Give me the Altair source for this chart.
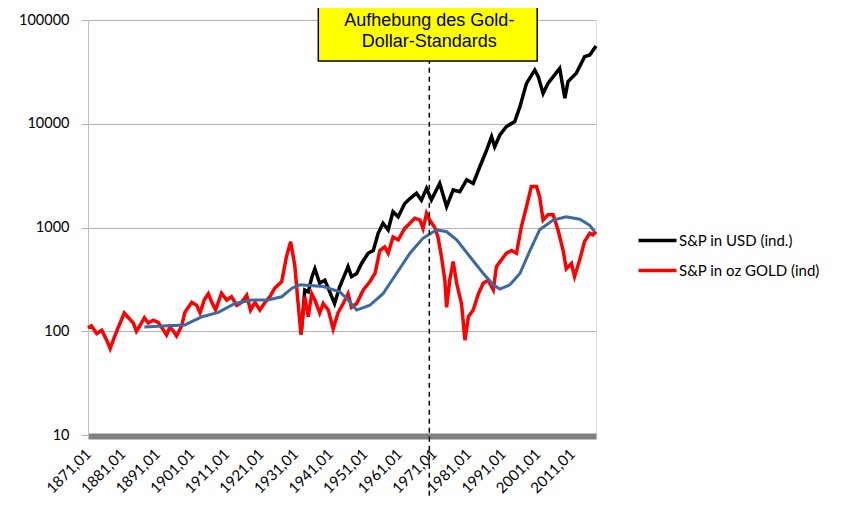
import altair as alt
import pandas as pd

# ---- data ----
red_years = [1871.0, 1872.0, 1873.5, 1875.0, 1876.4, 1877.4, 1878.3, 1879.8, 1881.5, 1882.7,
             1884.1, 1885.0, 1886.0, 1887.3, 1888.4, 1889.9, 1891.3, 1892.8, 1893.7, 1894.7,
             1895.7, 1896.6, 1898.1, 1899.0, 1901.0, 1902.4, 1903.4, 1904.6, 1905.8, 1906.8,
             1907.9, 1909.6, 1911.1, 1912.5, 1914.0, 1915.4, 1916.9, 1918.0, 1919.3, 1920.7,
             1922.2, 1923.6, 1925.0, 1927.0, 1928.4, 1929.6, 1930.8, 1931.8, 1932.6, 1933.7,
             1934.7, 1935.7, 1936.6, 1938.0, 1939.0, 1940.5, 1941.9, 1943.3, 1944.8, 1946.2,
             1947.2, 1948.7, 1950.6, 1952.5, 1954.0, 1955.4, 1956.8, 1957.8, 1959.2, 1960.7,
             1962.6, 1964.1, 1965.5, 1967.0, 1967.9, 1968.9, 1969.8, 1971.3, 1972.2, 1973.2,
             1974.2, 1974.7, 1975.6, 1976.6, 1977.6, 1979.0, 1980.0, 1981.0, 1982.4, 1983.9,
             1985.3, 1986.7, 1988.2, 1989.1, 1990.6, 1992.0, 1993.5, 1994.9, 1996.3, 1997.8,
             1999.2, 2000.7, 2001.6, 2002.6, 2004.0, 2005.5, 2006.9, 2008.4, 2009.3, 2010.8,
             2011.7, 2013.2, 2014.6, 2016.1, 2017.0, 2017.9]
red_vals = [108, 113, 95, 102, 82, 68, 82, 110, 150, 135,
            120, 100, 113, 135, 120, 128, 122, 103, 92, 110,
            100, 90, 113, 152, 190, 178, 150, 200, 230, 190,
            160, 233, 200, 215, 178, 190, 222, 160, 190, 160,
            190, 215, 260, 300, 525, 730, 430, 180, 93, 215,
            138, 230, 200, 150, 185, 160, 105, 150, 185, 230,
            170, 185, 250, 300, 362, 600, 650, 565, 810, 760,
            980, 1100, 1230, 1180, 980, 1370, 1180, 1000, 810, 525,
            310, 170, 310, 470, 290, 185, 82, 138, 160, 230,
            290, 310, 250, 420, 490, 565, 600, 565, 1010, 1590,
            2480, 2480, 1980, 1180, 1330, 1330, 950, 600, 400, 450,
            336, 490, 735, 880, 850, 910]

black_years = [1932.6, 1933.7, 1934.7, 1935.7, 1936.6, 1938.0, 1939.5, 1940.9, 1942.3, 1943.8,
               1946.2, 1947.2, 1948.7, 1950.1, 1952.0, 1953.5, 1954.9, 1956.3, 1957.8, 1959.2,
               1960.7, 1962.6, 1964.1, 1966.0, 1967.4, 1968.9, 1970.3, 1972.7, 1974.7, 1976.6,
               1978.5, 1980.5, 1982.4, 1984.3, 1986.3, 1987.7, 1988.6, 1990.1, 1992.0, 1994.4,
               1995.9, 1997.8, 2000.2, 2001.2, 2002.6, 2004.0, 2007.4, 2008.9, 2009.8, 2012.2,
               2014.6, 2016.1, 2017.9]
black_vals = [93, 250, 240, 330, 400, 290, 310, 240, 185, 270,
              420, 336, 360, 450, 565, 600, 880, 1100, 950, 1420,
              1270, 1700, 1900, 2140, 1830, 2380, 1850, 2660, 1590, 2300,
              2210, 2880, 2660, 3850, 5600, 7500, 6000, 7800, 9400, 10500,
              14600, 24500, 33000, 28400, 19600, 24500, 34200, 17600, 25500, 30700,
              44300, 46000, 56200]

blue_years = [1887.3, 1894.0, 1899.0, 1904.0, 1908.7, 1913.5, 1918.3, 1923.0, 1927.0, 1930.0,
              1932.3, 1939.0, 1943.8, 1946.2, 1948.7, 1952.5, 1956.3, 1960.2, 1964.1, 1967.9,
              1971.8, 1974.7, 1977.6, 1981.4, 1985.3, 1988.2, 1990.1, 1993.0, 1995.9, 1998.8,
              2001.6, 2005.5, 2009.3, 2013.2, 2016.1, 2017.5]
blue_vals = [110, 113, 115, 138, 152, 185, 200, 200, 215, 260,
             280, 270, 240, 200, 160, 178, 230, 360, 565, 790,
             950, 910, 760, 525, 360, 280, 255, 280, 360, 600,
             950, 1180, 1270, 1200, 1050, 910]

series_names = ["S&P in USD (ind.)", "S&P in oz GOLD (ind)"]
series_colors = ["#000000", "#FF0000"]
x_tick_years = [1871, 1881, 1891, 1901, 1911, 1921, 1931, 1941, 1951, 1961, 1971, 1981, 1991, 2001, 2011]
y_ticks = [10, 100, 1000, 10000, 100000]

note_lines = ["Aufhebung des Gold-", "Dollar-Standards"]
event_year = 1969.7

# ---- tables ----
df_black = pd.DataFrame({"year": black_years, "value": black_vals, "series": series_names[0]})
df_red = pd.DataFrame({"year": red_years, "value": red_vals, "series": series_names[1]})
df_blue = pd.DataFrame({"year": blue_years, "value": blue_vals})
df_rule = pd.DataFrame({"x": [event_year], "y": [2.6], "y2": [40300]})
df_box = pd.DataFrame({"x": [1937.6], "x2": [2000.9], "y": [40300], "y2": [170000]})
df_text = pd.DataFrame({"x": [event_year, event_year], "y": [98500, 61000], "t": note_lines})

x_scale = alt.Scale(domain=[1871, 2017.9], nice=False, zero=False)
y_scale = alt.Scale(type="log", domain=[10, 100000], nice=False)

x_axis = alt.Axis(
    values=x_tick_years, labelExpr="format(datum.value, 'd') + ',01'",
    labelAngle=-45, labelAlign="right", labelBaseline="middle", labelPadding=15,
    ticks=False, tickSize=0, grid=False, domainColor="#808080", domainWidth=6,
    labelFont="Lato", labelFontSize=15, labelColor="#000000", title=None, offset=1,
    labelOverlap=False, labelSeparation=0,
)
y_axis = alt.Axis(
    values=y_ticks, format="d", grid=True, gridColor="#B3B3B3", gridWidth=1,
    domainColor="#BFBFBF", domainWidth=1, tickColor="#B3B3B3", tickSize=7,
    labelPadding=12, labelFont="Lato", labelFontSize=14.5, labelColor="#000000", title=None,
    labelOverlap=False,
)

color = alt.Color(
    "series:N",
    scale=alt.Scale(domain=series_names, range=series_colors),
    legend=alt.Legend(
        title=None, orient="none", legendX=562, legendY=213,
        symbolType="M-3.8,0H3.8", symbolSize=100, symbolStrokeWidth=3.5,
        labelFont="Lato", labelFontSize=15, labelColor="#000000",
        labelOffset=14, rowPadding=14, padding=0,
    ),
)

X = alt.X("year:Q", scale=x_scale, axis=x_axis)
Y = alt.Y("value:Q", scale=y_scale, axis=y_axis)

black = alt.Chart(df_black).mark_line(strokeWidth=3.5).encode(x=X, y=Y, color=color)
red = alt.Chart(df_red).mark_line(strokeWidth=3.5).encode(x=X, y=Y, color=color)
blue = alt.Chart(df_blue).mark_line(strokeWidth=3, color="#3C6A9E").encode(x=X, y=Y)
rule = alt.Chart(df_rule).mark_rule(color="#000000", strokeWidth=1.5, strokeDash=[5, 4]).encode(
    x=alt.X("x:Q", scale=x_scale, axis=x_axis),
    y=alt.Y("y:Q", scale=y_scale, axis=y_axis), y2="y2:Q",
)
box = alt.Chart(df_box).mark_rect(fill="#FFFF00", stroke="#000000", strokeWidth=1.5).encode(
    x=alt.X("x:Q", scale=x_scale, axis=x_axis), x2="x2:Q",
    y=alt.Y("y:Q", scale=y_scale, axis=y_axis), y2="y2:Q",
)
text = alt.Chart(df_text).mark_text(
    font="Liberation Sans", fontSize=18, color="#000000", align="center", baseline="middle"
).encode(
    x=alt.X("x:Q", scale=x_scale, axis=x_axis),
    y=alt.Y("y:Q", scale=y_scale, axis=y_axis), text="t:N",
)

chart = alt.layer(black, red, blue, rule, box, text).properties(
    width=508, height=415,
    autosize=alt.AutoSizeParams(type="none"),
    padding={"left": 80, "top": 12, "right": 241, "bottom": 69},
).configure_view(stroke=None).configure(background="white").configure_axis(labelOverlap=False)

chart.save("out.html", embed_options={"renderer": "svg", "actions": False})
